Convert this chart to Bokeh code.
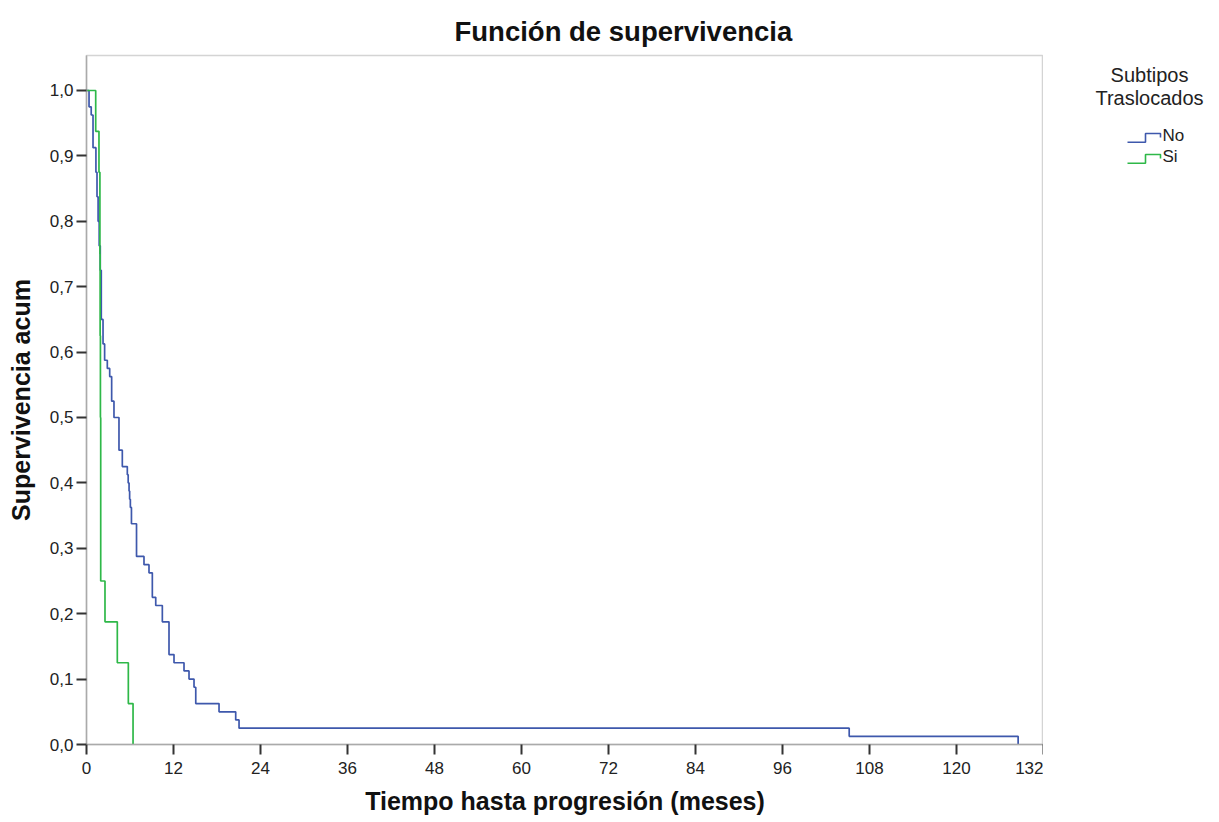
from bokeh.plotting import figure
from bokeh.models import Range1d, FixedTicker, CustomJSTickFormatter
from bokeh.layouts import row
from bokeh.embed import file_html
from bokeh.resources import INLINE
from bokeh.core.properties import value

# ---- data (Kaplan-Meier step curves) ----
no_time = [0, 0.35, 0.65, 0.9, 1.3, 1.45, 1.6, 1.75, 1.9, 2.04, 2.28, 2.5, 2.87, 3.2, 3.47,
           3.79, 4.48, 4.94, 5.63, 5.75, 5.87, 5.95, 6.05, 6.2, 6.9, 7.93, 8.62, 9.08, 9.55,
           10.46, 11.38, 12.07, 13.45, 14.14, 14.83, 15.07, 18.28, 20.58, 21.04, 105.2, 128.5]
no_surv = [1.0, 0.975, 0.9625, 0.9125, 0.875, 0.8375, 0.8, 0.7625, 0.725, 0.65, 0.6125, 0.5875,
           0.575, 0.5625, 0.525, 0.5, 0.45, 0.425, 0.4125, 0.4, 0.3875, 0.375, 0.3625, 0.3375,
           0.2875, 0.275, 0.2625, 0.225, 0.2125, 0.1875, 0.1375, 0.125, 0.1125, 0.1, 0.0875,
           0.0625, 0.05, 0.0375, 0.025, 0.0125, 0.0]
si_time = [0, 1.27, 1.72, 1.85, 1.88, 1.92, 1.96, 2.55, 4.25, 5.77, 6.42]
si_surv = [1.0, 0.9375, 0.875, 0.75, 0.625, 0.5, 0.25, 0.1875, 0.125, 0.0625, 0.0]

x_ticks = [0, 12, 24, 36, 48, 60, 72, 84, 96, 108, 120, 132]
y_ticks = [0.0, 0.1, 0.2, 0.3, 0.4, 0.5, 0.6, 0.7, 0.8, 0.9, 1.0]
groups = ["No", "Si"]
colors = ["#3E58AC", "#2EB848"]
legend_title = ["Subtipos", "Traslocados"]

FONT = "Liberation Sans"

p = figure(frame_width=957, frame_height=689, min_border_left=86, min_border_right=0,
           min_border_top=55, min_border_bottom=66,
           x_range=Range1d(0, 132), y_range=Range1d(0, 1.0535),
           output_backend="svg", toolbar_location=None,
           title="Función de supervivencia")
p.title.align = "left"
p.title.offset = 368
p.title.standoff = 18
p.title.text_font = FONT
p.title.text_font_size = "27.5px"
p.title.text_font_style = "bold"
p.title.text_color = "#111111"

p.xgrid.visible = False
p.ygrid.visible = False
p.outline_line_color = "#d4d4d4"
p.outline_line_width = 1.5
p.background_fill_color = "white"
p.border_fill_color = "white"

p.step(no_time, no_surv, mode="after", line_color=colors[0], line_width=1.7)
p.step(si_time, si_surv, mode="after", line_color=colors[1], line_width=1.7)

for ax in (p.xaxis[0], p.yaxis[0]):
    ax.axis_line_color = "#aaaaaa"
    ax.axis_line_width = 1.5
    ax.major_tick_line_color = "#333333"
    ax.major_tick_line_width = 2
    ax.major_tick_out = 10
    ax.major_tick_in = 0
    ax.minor_tick_line_color = None
    ax.major_label_text_font = FONT
    ax.major_label_text_font_size = "17px"
    ax.major_label_text_color = "#222222"
    ax.axis_label_text_font = FONT
    ax.axis_label_text_font_size = "25px"
    ax.axis_label_text_font_style = "bold"
    ax.axis_label_text_color = "#111111"

p.xaxis.ticker = FixedTicker(ticks=x_ticks)
p.yaxis.ticker = FixedTicker(ticks=y_ticks)
p.yaxis.formatter = CustomJSTickFormatter(code="return tick.toFixed(1).replace('.', ',');")
p.xaxis.axis_label = "Tiempo hasta progresión (meses)"
p.yaxis.axis_label = "Supervivencia acum"
p.xaxis.major_label_standoff = 7
p.yaxis.major_label_standoff = 3
p.xaxis.axis_label_standoff = 10
p.yaxis.axis_label_standoff = 12

# ---- legend panel: its frame is aligned with the main frame by the row layout,
# so its y range is expressed in page pixels (frame bottom 744 -> frame top 55) ----
LW = 170
lg = figure(width=LW, height=800, x_range=Range1d(0, LW), y_range=Range1d(744, 55),
            output_backend="svg", toolbar_location=None, min_border=0)
lg.axis.visible = False
lg.grid.visible = False
lg.outline_line_color = None

lg.text(x=[106, 106], y=[75, 99], text=legend_title, text_font=value(FONT),
        text_font_size="20px", text_align="center", text_baseline="middle",
        text_color="#222222")
for i, (g, c) in enumerate(zip(groups, colors)):
    yc = 137 + 21.5 * i
    lg.line([84, 102, 102, 117, 117], [yc + 7, yc + 7, yc - 2, yc - 2, yc + 2],
            line_color=c, line_width=1.6)
    lg.text(x=[119], y=[yc], text=[g], text_font=value(FONT), text_font_size="17px",
            text_align="left", text_baseline="middle", text_color="#222222")

layout = row(p, lg)
open("out.html", "w").write(file_html(layout, INLINE))
